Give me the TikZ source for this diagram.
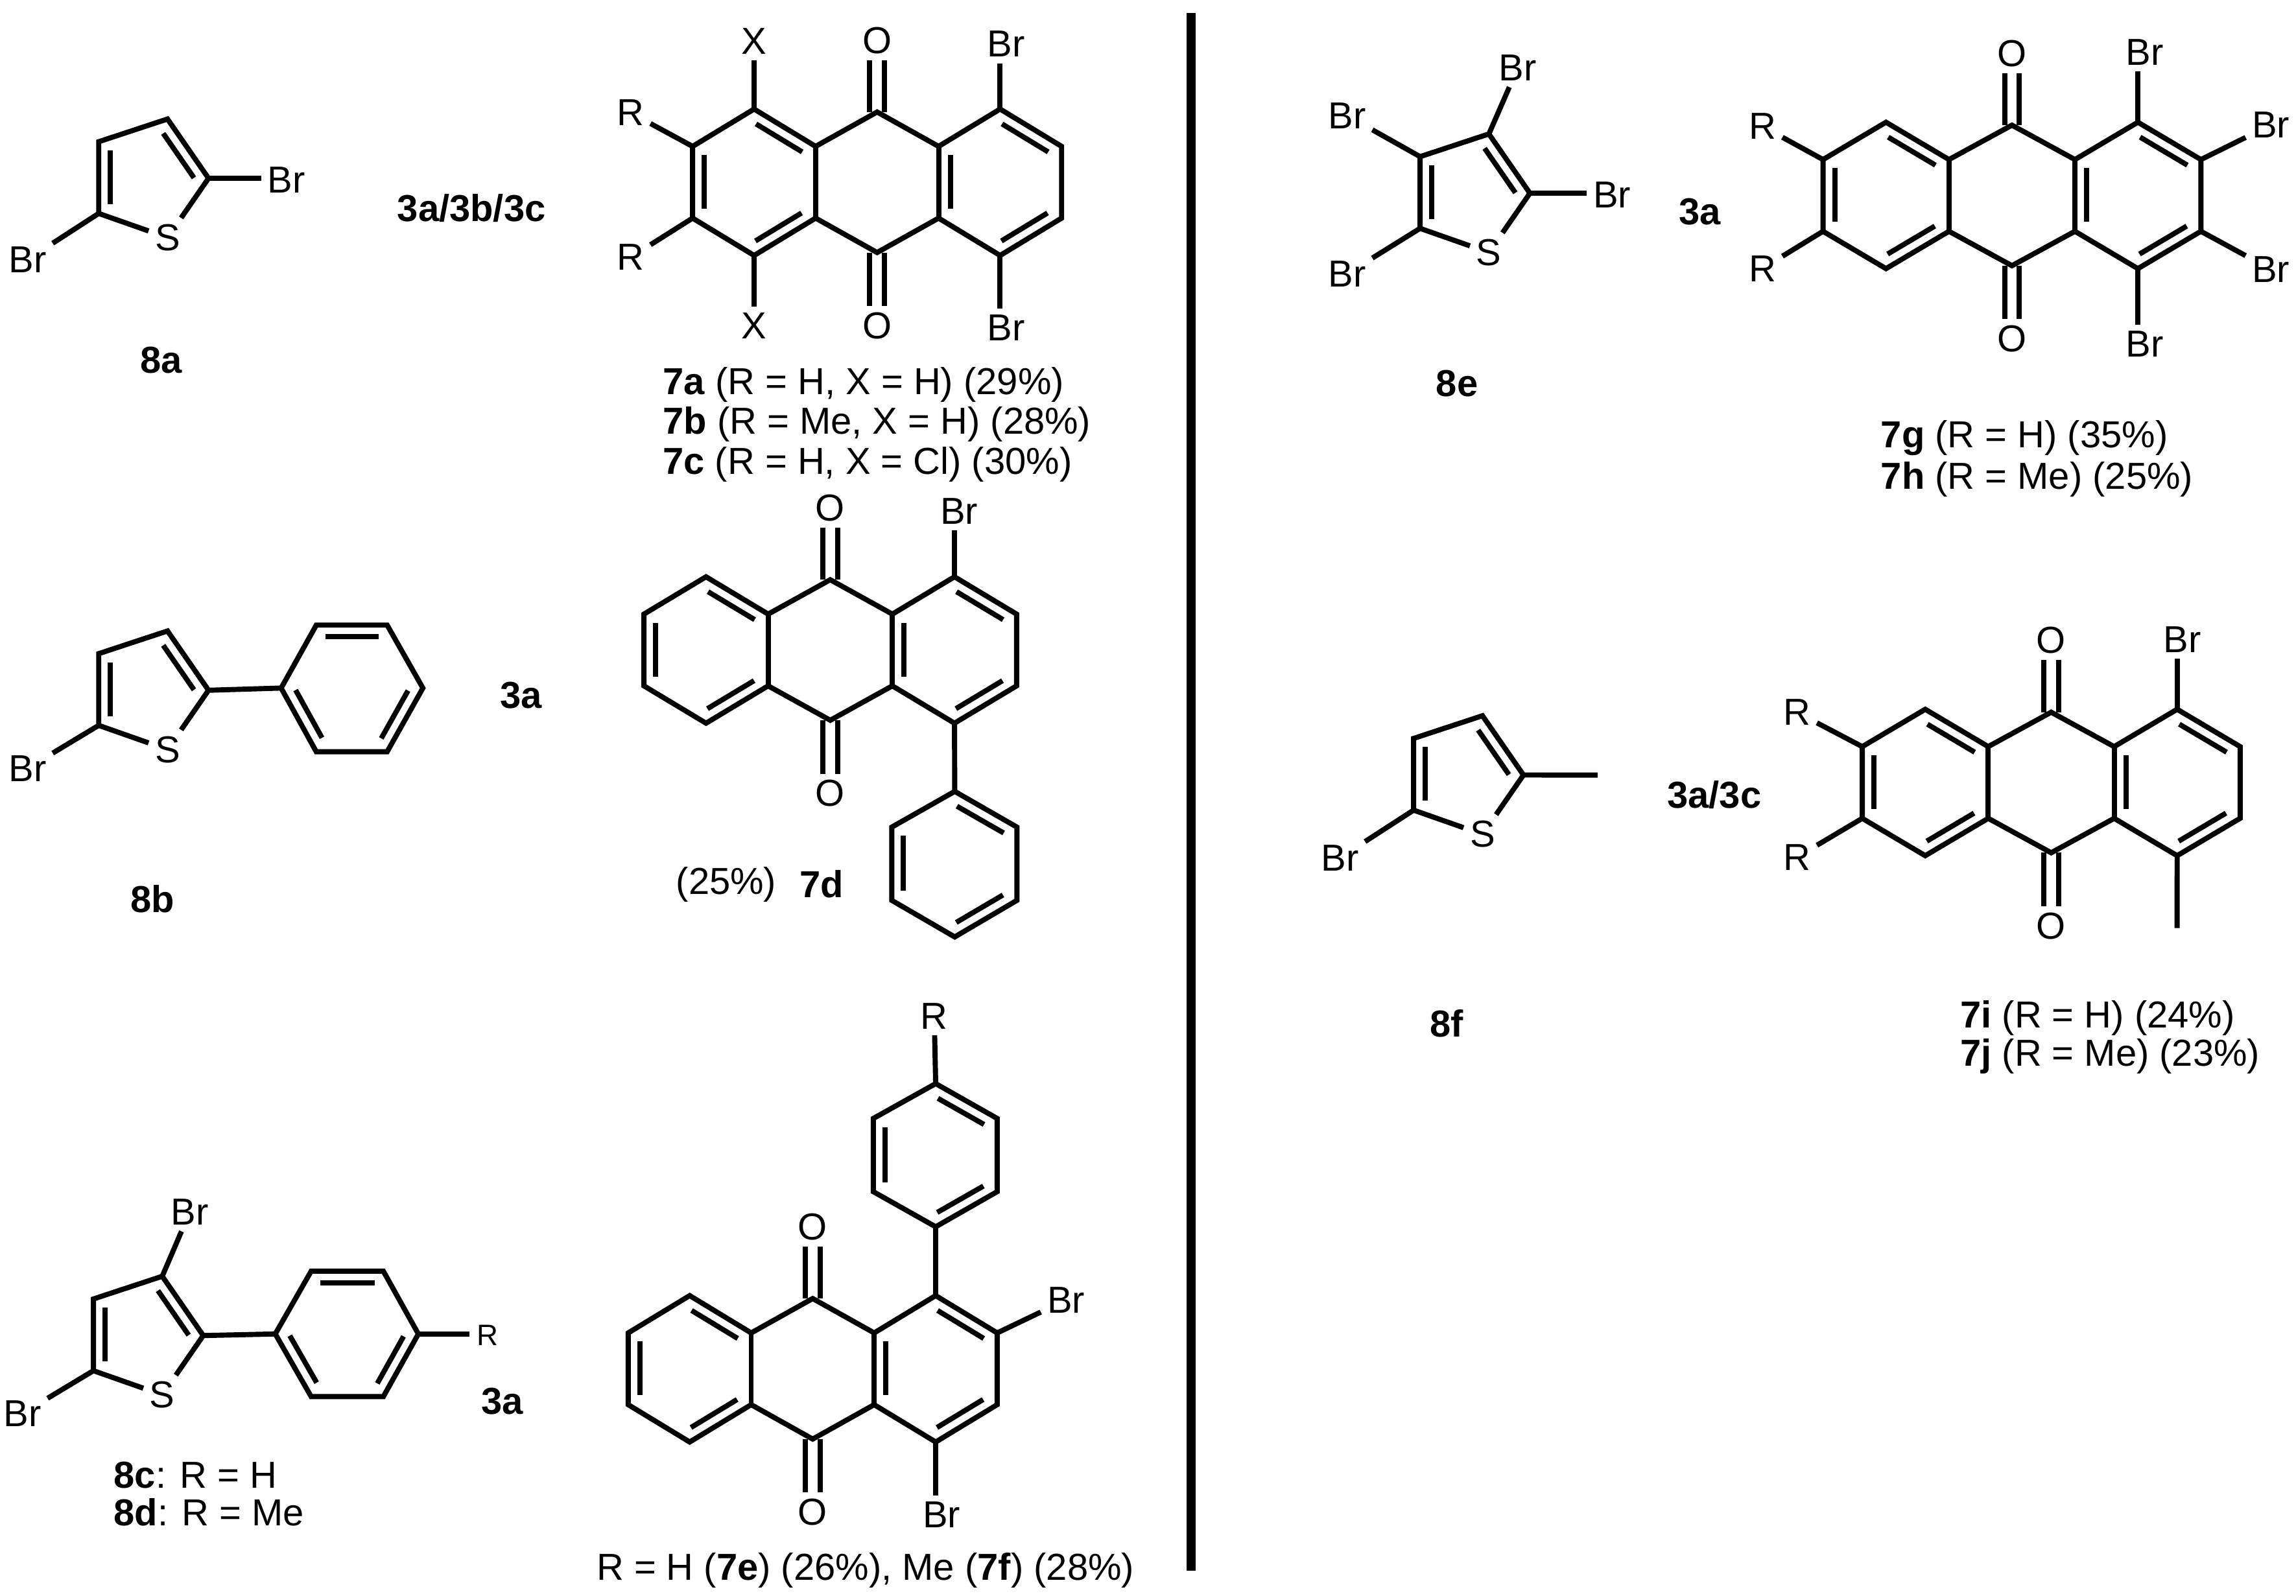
\documentclass[tikz,border=0pt]{standalone}
\usepackage{fontspec}
\setmainfont{Liberation Sans}
\usetikzlibrary{calc,positioning}

\newcommand{\chemfont}{\fontsize{14.6}{17}\selectfont}
% inner line of a double bond, on the right hand side of a -> b
\newcommand{\inbond}[2]{\draw ($(#1)!.13!(#2)!.16cm!-90:(#2)$) -- ($(#1)!.88!(#2)!.16cm!-90:(#2)$);}
% anthraquinone skeleton: name, centre, xscale
\newcommand{\anthra}[3]{%
\begin{scope}[shift={(#2)},xscale=#3]
\coordinate (#1-l1) at (-84,-50);
\coordinate (#1-l2) at (-126,-24.5);
\coordinate (#1-l3) at (-126,24.5);
\coordinate (#1-l4) at (-84,50);
\coordinate (#1-m1) at (-42,-24.5);
\coordinate (#1-m2) at (-42,24.5);
\coordinate (#1-o1) at (0,-48);
\coordinate (#1-o2) at (0,48);
\coordinate (#1-n1) at (42,-24.5);
\coordinate (#1-n2) at (42,24.5);
\coordinate (#1-r1) at (84,-50);
\coordinate (#1-r2) at (126,-24.5);
\coordinate (#1-r3) at (126,24.5);
\coordinate (#1-r4) at (84,50);
\node[atom] (#1-Ot) at (0,-97) {O};
\node[atom] (#1-Ob) at (0,98) {O};
\end{scope}
\draw[carbonyl] (#1-o1) -- (#1-Ot);
\draw[carbonyl] (#1-o2) -- (#1-Ob);
\draw (#1-m1) -- (#1-o1) -- (#1-n1) -- (#1-r1) -- (#1-r2) -- (#1-r3) -- (#1-r4) -- (#1-n2) -- (#1-o2) -- (#1-m2) -- (#1-l4) -- (#1-l3) -- (#1-l2) -- (#1-l1) -- cycle;
\draw (#1-m1) -- (#1-m2);
\draw (#1-n1) -- (#1-n2);
\inbond{#1-l1}{#1-m1} \inbond{#1-m2}{#1-l4} \inbond{#1-l3}{#1-l2}
\inbond{#1-r1}{#1-r2} \inbond{#1-r3}{#1-r4} \inbond{#1-n2}{#1-n1}
}
% thiophene: name, top carbon
\newcommand{\thiophene}[2]{%
\begin{scope}[shift={(#2)}]
\coordinate (#1-a) at (0,0);
\coordinate (#1-b) at (-47,15.5);
\coordinate (#1-c) at (-47,64.5);
\coordinate (#1-d) at (28,40.5);
\node[atom] (#1-S) at (0,81) {S};
\end{scope}
\draw (#1-c) -- (#1-b) -- (#1-a) -- (#1-d);
\path (#1-c) edge (#1-S)
(#1-d) edge (#1-S);
\inbond{#1-c}{#1-b} \inbond{#1-a}{#1-d}
}
% benzene: name, six corners clockwise
\newcommand{\benzene}[7]{%
\coordinate (#1-1) at (#2);
\coordinate (#1-2) at (#3);
\coordinate (#1-3) at (#4);
\coordinate (#1-4) at (#5);
\coordinate (#1-5) at (#6);
\coordinate (#1-6) at (#7);
\draw (#1-1) -- (#1-2) -- (#1-3) -- (#1-4) -- (#1-5) -- (#1-6) -- cycle;
\inbond{#1-1}{#1-2} \inbond{#1-3}{#1-4} \inbond{#1-5}{#1-6}
}

\begin{document}
\begin{tikzpicture}[x=0.02cm,y=-0.02cm,line width=.07cm,
    every node/.style={font=\chemfont},
    atom/.style={inner sep=1.5pt},
    small atom/.style={inner sep=2pt,font=\fontsize{11.5}{13}\selectfont},
    cpd/.style={font=\chemfont\bfseries,inner sep=0pt},
    yield/.style={anchor=west,inner sep=0pt},
    carbonyl/.style={double,double distance=.13cm}
    ]
\useasboundingbox (0,0) rectangle (1568,1089.8);

% separator
\coordinate (bartop) at (813.5,9);
\coordinate (barbot) at (813.5,1073);
\draw[line width=.128cm] (bartop) -- (barbot);

% 8a -> 7a/7b/7c
\thiophene{8a}{114.4,81.3}
\node[atom] (8a-Br1) at (195.7,123) {Br};
\node[atom] (8a-Br2) at (18.8,177.3) {Br};
\path (8a-d) edge (8a-d -| 8a-Br1.west)
(8a-c) edge (8a-Br2);
\node[cpd] (8a) at (110,246) {8a};
\node[cpd] (cat1) at (322,142) {3a/3b/3c};

\anthra{7a}{599,124.5}{1}
\node[atom] (7a-X1) at (515,28) {X};
\node[atom] (7a-X2) at (515,222.5) {X};
\node[atom] (7a-R1) at (430.6,77) {R};
\node[atom] (7a-R2) at (430.6,175.8) {R};
\node[atom] (7a-Br1) at (687,30) {Br};
\node[atom] (7a-Br2) at (687,224) {Br};
\path (7a-l1) edge (7a-X1)
(7a-l4) edge (7a-X2)
(7a-l2) edge (7a-R1)
(7a-l3) edge (7a-R2)
(7a-r1) edge (7a-r1 |- 7a-Br1.south)
(7a-r4) edge (7a-r4 |- 7a-Br2.north);
\node[yield] (7a) at (451,263) {\textbf{7a} (R = H, X = H) (29\%)};
\node[yield] (7b) at (451,290) {\textbf{7b} (R = Me, X = H) (28\%)};
\node[yield] (7c) at (451,317.5) {\textbf{7c} (R = H, X = Cl) (30\%)};

% 8b -> 7d
\thiophene{8b}{114.4,431}
\node[atom] (8b-Br) at (18.8,524.8) {Br};
\benzene{8b-ph}{216,427}{264.4,427}{288.8,470}{264.4,513.5}{216,513.5}{192,470}
\path (8b-c) edge (8b-Br)
(8b-d) edge (8b-ph-6);
\node[cpd] (8b) at (104.2,614) {8b};
\node[cpd] (cat2) at (356,475) {3a};

\anthra{7d}{567,444}{1.01}
\node[atom] (7d-Br) at (655,349) {Br};
\benzene{7d-ph}{652,540.6}{694.5,565}{694.5,615}{652,640}{609,615}{609,565}
\path (7d-r1) edge (7d-r1 |- 7d-Br.south)
(7d-r4) edge (7d-ph-1);
\node[yield] (7d-y) at (460,604) {(25\%)};
\node[cpd] (7d) at (561,604) {7d};

% 8c/8d -> 7e/7f
\thiophene{8c}{110.8,871.8}
\node[atom] (8c-Br1) at (129.6,827.9) {Br};
\node[atom] (8c-Br2) at (15.3,965.5) {Br};
\benzene{8c-ph}{212.5,868.3}{261.8,868.3}{285.7,911.2}{261.8,954}{212.5,954}{188,911.2}
\node[small atom] (8c-R) at (333,912) {R};
\path (8c-a) edge (8c-Br1)
(8c-c) edge (8c-Br2)
(8c-d) edge (8c-ph-6)
(8c-ph-3) edge (8c-ph-3 -| 8c-R.west);
\node[cpd] (cat3) at (343,957) {3a};
\node[yield] (8c) at (76,1007.5) {\textbf{8c}: R = H};
\node[yield] (8d) at (76,1033) {\textbf{8d}: R = Me};

\anthra{7e}{555,935}{1}
\node[atom] (7e-Br1) at (728,888) {Br};
\node[atom] (7e-Br2) at (643,1034.7) {Br};
\benzene{7e-ph}{639,740.2}{681,764}{681,814}{639,838}{596.4,814}{596.4,764}
\node[atom] (7e-R) at (638,694) {R};
\path (7e-r2) edge (7e-Br1)
(7e-r4) edge (7e-r4 |- 7e-Br2.north)
(7e-r1) edge (7e-ph-4)
(7e-ph-1) edge (7e-R);
\node[yield] (7e) at (405.7,1072.7) {R = H (\textbf{7e}) (26\%), Me (\textbf{7f}) (28\%)};

% 8e -> 7g/7h
\thiophene{8e}{1016.8,91.5}
\node[atom] (8e-Br1) at (1036.5,46.3) {Br};
\node[atom] (8e-Br2) at (920,79) {Br};
\node[atom] (8e-Br3) at (1100.9,133.3) {Br};
\node[atom] (8e-Br4) at (920,187) {Br};
\path (8e-a) edge (8e-Br1)
(8e-b) edge (8e-Br2)
(8e-d) edge (8e-d -| 8e-Br3.west)
(8e-c) edge (8e-Br4);
\node[cpd] (8e) at (995,262) {8e};
\node[cpd] (cat4) at (1160.9,144.6) {3a};

\anthra{7g}{1374,133.5}{1.024}
\node[atom] (7g-R1) at (1203.6,86.3) {R};
\node[atom] (7g-R2) at (1203.6,183.4) {R};
\node[atom] (7g-Br1) at (1464.7,35.7) {Br};
\node[atom] (7g-Br2) at (1550.8,85.4) {Br};
\node[atom] (7g-Br3) at (1550.8,184) {Br};
\node[atom] (7g-Br4) at (1464.7,235) {Br};
\path (7g-l2) edge (7g-R1)
(7g-l3) edge (7g-R2)
(7g-r1) edge (7g-r1 |- 7g-Br1.south)
(7g-r2) edge (7g-Br2)
(7g-r3) edge (7g-Br3)
(7g-r4) edge (7g-r4 |- 7g-Br4.north);
\node[yield] (7g) at (1282.8,299.3) {\textbf{7g} (R = H) (35\%)};
\node[yield] (7h) at (1282.8,327.6) {\textbf{7h} (R = Me) (25\%)};

% 8f -> 7i/7j
\thiophene{8f}{1012.4,488.9}
\node[atom] (8f-Br) at (915,586) {Br};
\coordinate (8f-Me) at (1091,529.4);
\path (8f-c) edge (8f-Br)
(8f-d) edge (8f-Me);
\node[cpd] (8f) at (987.8,699) {8f};
\node[cpd] (cat5) at (1170.7,543) {3a/3c};

\anthra{7i}{1400.8,534.5}{1.024}
\node[atom] (7i-R1) at (1227.2,486.6) {R};
\node[atom] (7i-R2) at (1227.2,585.5) {R};
\node[atom] (7i-Br) at (1490.3,436.9) {Br};
\coordinate (7i-Me) at (1486.8,633.9);
\path (7i-l2) edge (7i-R1)
(7i-l3) edge (7i-R2)
(7i-r1) edge (7i-r1 |- 7i-Br.south)
(7i-r4) edge (7i-Me);
\node[yield] (7i) at (1337,695.6) {\textbf{7i} (R = H) (24\%)};
\node[yield] (7j) at (1337,721.5) {\textbf{7j} (R = Me) (23\%)};
\end{tikzpicture}
\end{document}
